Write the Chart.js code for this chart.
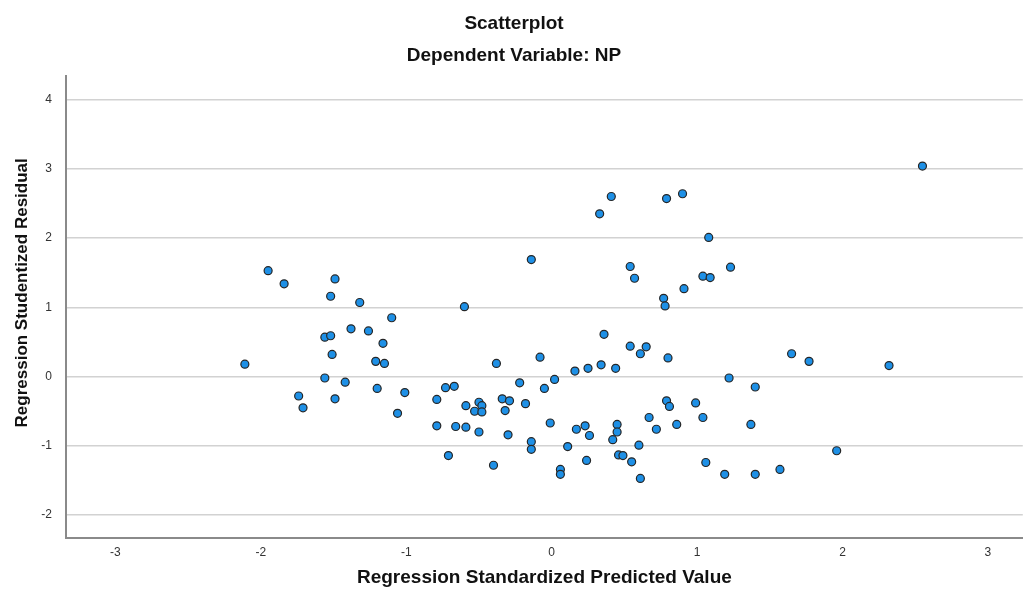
<!DOCTYPE html>
<html>
<head>
<meta charset="utf-8">
<script src="https://cdn.jsdelivr.net/npm/chart.js@4/dist/chart.umd.min.js"></script>
<style>
  html, body { margin: 0; padding: 0; background: #fff; }
  #wrap { width: 1028px; height: 602px; }
</style>
</head>
<body>
<div id="wrap"><canvas id="scatter"></canvas></div>
<script>
// Regression Standardized Predicted Value (x) / Studentized Residual (y)
const predicted = [-2.11, -1.95, -1.84, -1.49, -1.52, -1.32, -0.60, -1.10, -1.38, -1.26,
    -1.56, -1.52, -1.16, -1.51, -1.21, -1.15, -1.56, -1.42, -1.20, -1.01,
    -1.74, -1.49, -1.71, -1.06, -0.79, -0.73, -0.67, -0.79, -0.66, -0.59,
    -0.50, -0.71, -0.59, -0.53, -0.50, -0.48, -0.48, -0.34, -0.29, -0.32,
    -0.18, -0.22, -0.05, 0.02, -0.38, -0.08, 0.16, 0.25, 0.34, 0.44,
    0.36, 0.54, 0.65, 0.61, 0.80, -0.30, -0.01, 0.17, 0.23, 0.26,
    0.45, 0.45, 0.42, 0.67, 0.72, 0.86, 0.79, 0.81, 0.99, 1.04,
    -0.14, -0.14, 0.11, 0.60, -0.40, 0.06, 0.06, 0.24, 0.46, 0.49,
    0.55, 0.61, 1.06, 1.19, 1.40, 1.57, 1.96, 0.41, 0.33, 0.79,
    0.90, 1.08, -0.14, 0.54, 0.57, 1.04, 1.09, 0.91, 0.77, 0.78,
    2.55, 1.23, 1.65, 1.77, 2.32, 1.22, 1.40, 1.37];
const residual = [0.18, 1.53, 1.34, 1.41, 1.16, 1.07, 1.01, 0.85, 0.69, 0.66,
    0.57, 0.59, 0.48, 0.32, 0.22, 0.19, -0.02, -0.08, -0.17, -0.23,
    -0.28, -0.32, -0.45, -0.53, -0.33, -0.16, -0.14, -0.71, -0.72, -0.73,
    -0.80, -1.14, -0.42, -0.50, -0.37, -0.42, -0.51, -0.32, -0.35, -0.49,
    -0.39, -0.09, -0.17, -0.04, 0.19, 0.28, 0.08, 0.12, 0.17, 0.12,
    0.61, 0.44, 0.43, 0.33, 0.27, -0.84, -0.67, -0.76, -0.71, -0.85,
    -0.69, -0.80, -0.91, -0.59, -0.76, -0.69, -0.35, -0.43, -0.38, -0.59,
    -0.94, -1.05, -1.01, -0.99, -1.28, -1.34, -1.41, -1.21, -1.13, -1.14,
    -1.23, -1.47, -1.24, -1.41, -1.41, -1.34, -1.07, 2.60, 2.35, 2.57,
    2.64, 2.01, 1.69, 1.59, 1.42, 1.45, 1.43, 1.27, 1.13, 1.02,
    3.04, 1.58, 0.33, 0.22, 0.16, -0.02, -0.15, -0.69];

const xRange = [-3.34, 3.24];
const yRange = [-2.33, 4.34];

const points = [];
for (let i = 0; i < predicted.length; i++) {
    points.push({ x: predicted[i], y: residual[i] });
}

const fontFamily = '"Liberation Sans", Arial, sans-serif';

const ctx = document.getElementById('scatter').getContext('2d');
const chart = new Chart(ctx, {
    type: 'scatter',
    data: {
        datasets: [{
            data: points,
            backgroundColor: '#1e90e6',
            borderColor: '#262626',
            borderWidth: 1.2,
            pointRadius: 4,
            pointHoverRadius: 4
        }]
    },
    options: {
        responsive: true,
        maintainAspectRatio: false,
        animation: false,
        layout: { padding: 0 },
        plugins: {
            legend: { display: false },
            tooltip: { enabled: false },
            title: {
                display: true,
                text: 'Scatterplot',
                color: '#111',
                font: { family: fontFamily, size: 19, weight: 'bold' },
                padding: { top: 12, bottom: 10 }
            },
            subtitle: {
                display: true,
                text: 'Dependent Variable: NP',
                color: '#111',
                font: { family: fontFamily, size: 19, weight: 'bold' },
                padding: { top: 0, bottom: 8.4 }
            }
        },
        scales: {
            x: {
                type: 'linear',
                min: xRange[0],
                max: xRange[1],
                afterFit: (scale) => { scale.height = 64; },
                grid: { display: false, drawTicks: false },
                border: { display: true, color: '#8a8a8a', width: 2 },
                ticks: {
                    stepSize: 1,
                    includeBounds: false,
                    padding: 7,
                    color: '#333',
                    font: { family: fontFamily, size: 12 }
                },
                title: {
                    display: true,
                    text: 'Regression Standardized Predicted Value',
                    color: '#111',
                    font: { family: fontFamily, size: 19, weight: 'bold' },
                    padding: { top: 0, bottom: 12.6 }
                }
            },
            y: {
                type: 'linear',
                min: yRange[0],
                max: yRange[1],
                afterFit: (scale) => { scale.width = 66; },
                grid: { color: '#d2d2d2', lineWidth: 1.6, drawTicks: false },
                border: { display: true, color: '#8a8a8a', width: 2 },
                ticks: {
                    stepSize: 1,
                    includeBounds: false,
                    padding: 14,
                    color: '#333',
                    font: { family: fontFamily, size: 12 }
                },
                title: {
                    display: true,
                    // leading spaces nudge the rotated label up, as in the original
                    text: '      Regression Studentized Residual',
                    color: '#111',
                    font: { family: fontFamily, size: 17, weight: 'bold' },
                    padding: { top: 12, bottom: 0 }
                }
            }
        }
    }
});
</script>
</body>
</html>
